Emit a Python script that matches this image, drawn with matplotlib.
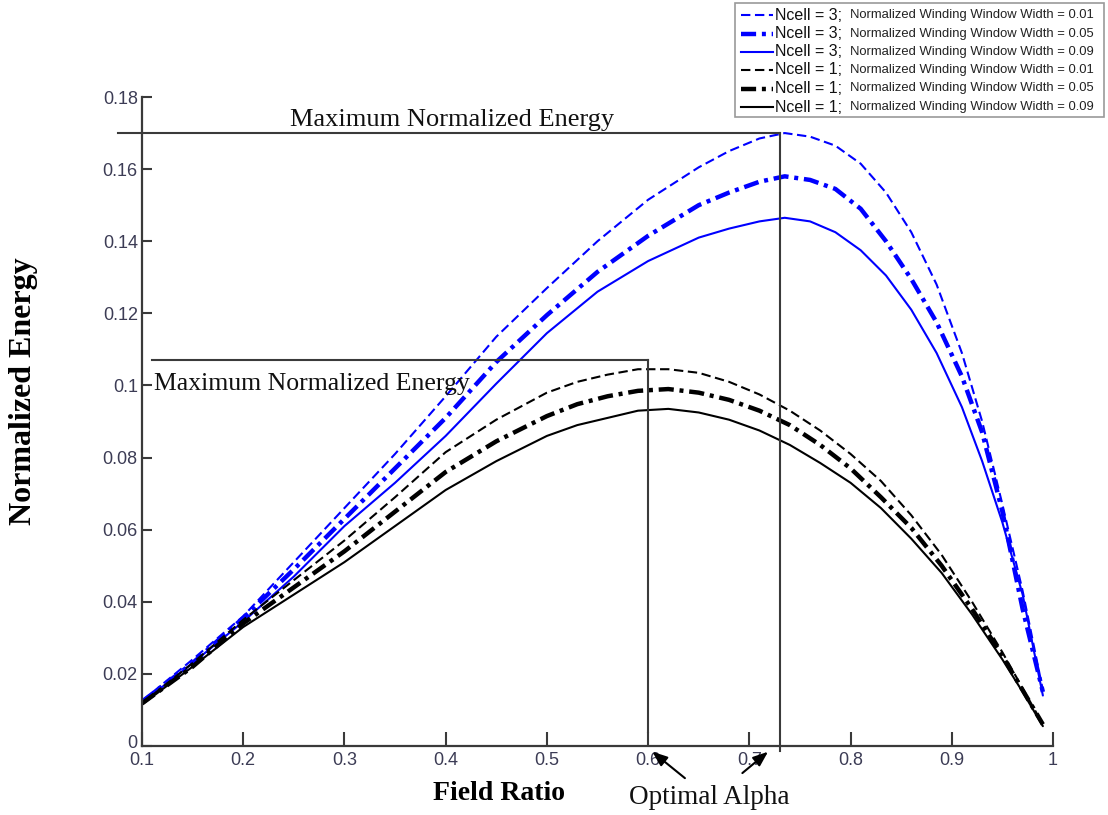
import matplotlib
matplotlib.use("Agg")
import matplotlib.pyplot as plt
import matplotlib.transforms as mtransforms
from matplotlib.lines import Line2D
from matplotlib.patches import Rectangle

# ---------------- data ----------------
x_blue = [0.10, 0.15, 0.20, 0.25, 0.30, 0.35, 0.40, 0.45, 0.50, 0.55, 0.60, 0.65,
          0.68, 0.71, 0.735, 0.76, 0.785, 0.81, 0.835, 0.86, 0.885, 0.91, 0.93,
          0.95, 0.97, 0.99]
n3_w001 = [0.0125, 0.024, 0.036, 0.051, 0.066, 0.081, 0.097, 0.1135, 0.127, 0.140,
           0.1515, 0.1605, 0.165, 0.1685, 0.1700, 0.169, 0.1665, 0.1615, 0.1535, 0.1425,
           0.128, 0.109, 0.090, 0.067, 0.043, 0.0155]
n3_w005 = [0.0123, 0.023, 0.0355, 0.049, 0.063, 0.077, 0.091, 0.1065, 0.1195, 0.1315,
           0.1415, 0.150, 0.1535, 0.1565, 0.158, 0.157, 0.1545, 0.149, 0.140, 0.1295,
           0.1175, 0.1025, 0.087, 0.065, 0.038, 0.015]
n3_w009 = [0.012, 0.023, 0.0345, 0.047, 0.061, 0.073, 0.086, 0.1005, 0.1145, 0.126,
           0.1345, 0.141, 0.1435, 0.1455, 0.1465, 0.1455, 0.1425, 0.1375, 0.1305, 0.121,
           0.109, 0.094, 0.079, 0.062, 0.042, 0.014]

x_black = [0.10, 0.15, 0.20, 0.25, 0.30, 0.35, 0.40, 0.45, 0.50, 0.53, 0.56, 0.59,
           0.62, 0.65, 0.68, 0.71, 0.74, 0.77, 0.80, 0.83, 0.86, 0.89, 0.92, 0.95,
           0.97, 0.99]
n1_w001 = [0.0118, 0.023, 0.035, 0.046, 0.057, 0.069, 0.0815, 0.0905, 0.098, 0.101,
           0.103, 0.1045, 0.1045, 0.1035, 0.101, 0.0975, 0.093, 0.0875, 0.081, 0.0735,
           0.064, 0.053, 0.040, 0.026, 0.016, 0.006]
n1_w005 = [0.0118, 0.022, 0.034, 0.044, 0.054, 0.065, 0.076, 0.0845, 0.0915, 0.0948,
           0.097, 0.0985, 0.099, 0.098, 0.096, 0.093, 0.089, 0.0835, 0.077, 0.069,
           0.0605, 0.050, 0.038, 0.025, 0.0155, 0.006]
n1_w009 = [0.0115, 0.022, 0.033, 0.042, 0.051, 0.061, 0.071, 0.079, 0.086, 0.089,
           0.091, 0.093, 0.0935, 0.0925, 0.0905, 0.0875, 0.0835, 0.0785, 0.073, 0.066,
           0.0575, 0.048, 0.0365, 0.024, 0.015, 0.0055]

legend_ncell = ["Ncell = 3;", "Ncell = 3;", "Ncell = 3;",
                "Ncell = 1;", "Ncell = 1;", "Ncell = 1;"]
legend_width = ["Normalized Winding Window Width = 0.01",
                "Normalized Winding Window Width = 0.05",
                "Normalized Winding Window Width = 0.09",
                "Normalized Winding Window Width = 0.01",
                "Normalized Winding Window Width = 0.05",
                "Normalized Winding Window Width = 0.09"]

x_ticks = [0.1, 0.2, 0.3, 0.4, 0.5, 0.6, 0.7, 0.8, 0.9, 1.0]
x_ticklabels = ["0.1", "0.2", "0.3", "0.4", "0.5", "0.6", "0.7", "0.8", "0.9", "1"]
y_ticks = [0, 0.02, 0.04, 0.06, 0.08, 0.1, 0.12, 0.14, 0.16, 0.18]
y_ticklabels = ["0", "0.02", "0.04", "0.06", "0.08", "0.1", "0.12", "0.14", "0.16", "0.18"]

max_n3, alpha_n3 = 0.170, 0.73
max_n1, alpha_n1 = 0.107, 0.60

# ---------------- styles ----------------
BLUE = "#0000ff"
BLACK = "#000000"
dash_style = (0, (4.5, 2.2))
dashdot_style = (0, (3.4, 1.3, 0.9, 1.3))
series = [
    (x_blue, n3_w001, BLUE, dash_style, 1.5),
    (x_blue, n3_w005, BLUE, dashdot_style, 3.2),
    (x_blue, n3_w009, BLUE, "-", 1.5),
    (x_black, n1_w001, BLACK, dash_style, 1.5),
    (x_black, n1_w005, BLACK, dashdot_style, 3.2),
    (x_black, n1_w009, BLACK, "-", 1.5),
]

fig = plt.figure(figsize=(11.08, 8.15), dpi=100)
ax = fig.add_axes([142 / 1108, 69 / 815, (1053 - 142) / 1108, (746 - 97) / 815])

for xs, ys, c, ls, lw in series:
    ax.plot(xs, ys, color=c, linestyle=ls, linewidth=lw, solid_capstyle="round",
            solid_joinstyle="round", dash_capstyle="butt")

ax.set_xlim(0.1, 1.0)
ax.set_ylim(0, 0.18)
for s in ["top", "right"]:
    ax.spines[s].set_visible(False)
for s in ["left", "bottom"]:
    ax.spines[s].set_color("#3a3a3a")
    ax.spines[s].set_linewidth(1.6)

tick_font = dict(family=["Liberation Sans Narrow", "Liberation Sans", "DejaVu Sans"],
                 size=13, color="#3c3c55")
ax.set_xticks(x_ticks)
ax.set_xticklabels(x_ticklabels, **tick_font)
ax.set_yticks(y_ticks)
ax.set_yticklabels(y_ticklabels, **tick_font)
ax.tick_params(axis="x", direction="in", length=10, width=1.5, color="#3a3a3a", pad=4)
ax.tick_params(axis="y", direction="in", length=7, width=1.5, color="#3a3a3a", pad=3)
# nudge the "0" y label up a little (as in the reference corner)
zero_lbl = ax.get_yticklabels()[0]
zero_lbl.set_transform(zero_lbl.get_transform() +
                       mtransforms.ScaledTranslation(0, 5 / 100, fig.dpi_scale_trans))

# annotation lines
ann_kw = dict(color="#3a3a3a", linewidth=1.5, clip_on=False)
ax.plot([0.0765, alpha_n3], [max_n3, max_n3], **ann_kw)
ax.plot([alpha_n3, alpha_n3], [max_n3, -0.0014], **ann_kw)
ax.plot([0.11, alpha_n1], [max_n1, max_n1], **ann_kw)
ax.plot([alpha_n1, alpha_n1], [max_n1, 0.004], **ann_kw)

serif = ["Liberation Serif", "DejaVu Serif"]
ax.text(0.246, 0.1735, "Maximum Normalized Energy", family=serif, size=19,
        va="center", ha="left", color="#111111")
ax.text(0.112, 0.1005, "Maximum Normalized Energy", family=serif, size=18.5,
        va="center", ha="left", color="#111111")

# arrows to optimal alpha
arrow_kw = dict(arrowstyle="-|>,head_length=0.9,head_width=0.35", color="black", lw=1.5)
ax.annotate("", xy=(0.602, -0.0011), xytext=(0.6385, -0.0094),
            arrowprops=arrow_kw, annotation_clip=False)
ax.annotate("", xy=(0.7206, -0.0011), xytext=(0.691, -0.008),
            arrowprops=arrow_kw, annotation_clip=False)

fig.text(709 / 1108, 1 - 798 / 815, "Optimal Alpha", family=serif, size=19.5,
         ha="center", va="center", color="#111111")
fig.text(499 / 1108, 1 - 793 / 815, "Field Ratio", family=serif, size=20,
         weight="bold", ha="center", va="center")
fig.text(24 / 1108, 1 - 391 / 815, "Normalized Energy", family=serif, size=23,
         weight="bold", ha="center", va="center", rotation=90)

# ---------------- legend (drawn manually, two font sizes) ----------------
W, H = 1108, 815
fig.patches.append(Rectangle((735 / W, 1 - 117 / H), (1104 - 735) / W, (117 - 3) / H,
                             transform=fig.transFigure, facecolor="white",
                             edgecolor="#9a9a9a", linewidth=1.2, zorder=5))
row_y = [15, 33.5, 52, 70, 88.5, 107]
for i, (xs, ys, c, ls, lw) in enumerate(series):
    yy = 1 - row_y[i] / H
    fig.lines.append(Line2D([741 / W, 773 / W], [yy, yy], transform=fig.transFigure,
                            color=c, linestyle=ls, linewidth=lw, zorder=6))
    fig.text(775 / W, yy, legend_ncell[i], family=["Liberation Sans", "DejaVu Sans"],
             size=11.5, va="center", ha="left", color="#111111", zorder=7)
    fig.text(850 / W, yy, legend_width[i], family=["Liberation Sans", "DejaVu Sans"],
             size=9.4, va="center", ha="left", color="#222222", zorder=7)

fig.savefig("out.png", dpi=100)
